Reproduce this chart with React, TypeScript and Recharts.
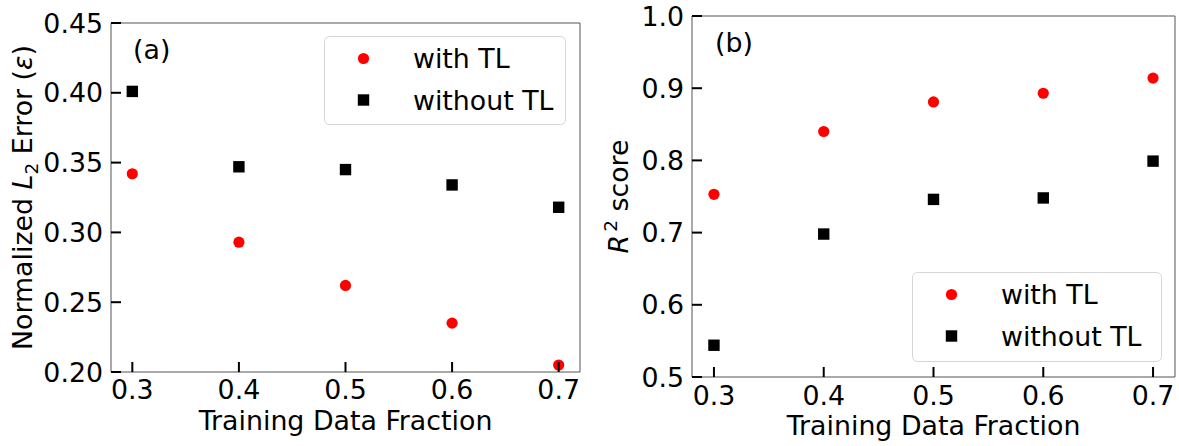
import React from 'react'
import { ScatterChart, Scatter, XAxis, YAxis, ReferenceArea, Legend } from 'recharts'

// values
const fractions = [0.3, 0.4, 0.5, 0.6, 0.7]
const errorWithTL = [0.342, 0.293, 0.262, 0.235, 0.205]
const errorWithoutTL = [0.401, 0.347, 0.345, 0.334, 0.318]
const r2WithTL = [0.753, 0.84, 0.881, 0.893, 0.914]
const r2WithoutTL = [0.544, 0.698, 0.746, 0.748, 0.799]

const xTicks = [0.3, 0.4, 0.5, 0.6, 0.7]
const errorTicks = [0.2, 0.25, 0.3, 0.35, 0.4, 0.45]
const r2Ticks = [0.5, 0.6, 0.7, 0.8, 0.9, 1.0]
const xDomain = [0.28, 0.72]
const errorDomain = [0.2, 0.45]
const r2Domain = [0.5, 1.0]

const toPoints = (ys: number[]) => fractions.map((x, i) => ({ x, y: ys[i] }))

const FONT = '"DejaVu Sans", sans-serif'
const FS = 26.8

const RedDot = (p: any) => <circle cx={p.cx} cy={p.cy} r={5.6} fill="#ff0000" />
const BlackSquare = (p: any) => <rect x={p.cx - 5.7} y={p.cy - 5.7} width={11.4} height={11.4} fill="#000" />

const bottomTick = (labelOffset: number) => ({ x, y, payload }: any) => (
  <g>
    <line x1={x} y1={y} x2={x} y2={y - 10} stroke="#000" strokeWidth={2} />
    <text x={x} y={y + labelOffset} textAnchor="middle" fontSize={FS} fontFamily={FONT} fill="#000">
      {Number(payload.value).toFixed(1)}
    </text>
  </g>
)

const leftTick = (digits: number) => ({ x, y, payload }: any) => (
  <g>
    <line x1={x} y1={y} x2={x + 10} y2={y} stroke="#000" strokeWidth={2} />
    <text x={x - 8} y={y} dy="0.36em" textAnchor="end" fontSize={FS} fontFamily={FONT} fill="#000">
      {Number(payload.value).toFixed(digits)}
    </text>
  </g>
)

const LegendBox = ({ payload, width, height }: any) => (
  <svg width={width} height={height} style={{ display: 'block' }}>
    <rect x={0.5} y={0.5} width={width - 1} height={height - 1} rx={5} fill="#fff" fillOpacity={0.8} stroke="#d6d6d6" />
    {(payload || []).map((entry: any, i: number) => {
      const cy = 22.5 + 41.5 * i
      return (
        <g key={entry.value}>
          {entry.type === 'square'
            ? <rect x={39.5 - 5.7} y={cy - 5.7} width={11.4} height={11.4} fill={entry.color} />
            : <circle cx={39.5} cy={cy} r={5.6} fill={entry.color} />}
          <text x={89} y={cy + 9.8} fontSize={FS} fontFamily={FONT} fill="#000">{entry.value}</text>
        </g>
      )
    })}
  </svg>
)

// axis titles and panel letters, drawn over both charts
const Titles = () => (
  <svg width={1179} height={446} style={{ position: 'absolute', left: 0, top: 0, pointerEvents: 'none' }}
    fontFamily={FONT} fontSize={FS} fill="#000">
    <text x={133} y={58.5}>(a)</text>
    <text x={715} y={51.5}>(b)</text>
    <text x={345.5} y={430} textAnchor="middle">Training Data Fraction</text>
    <text x={933.5} y={435} textAnchor="middle">Training Data Fraction</text>
    <text x={31.5} y={197.5} transform="rotate(-90 31.5 197.5)" textAnchor="middle">
      Normalized <tspan fontStyle="italic">L</tspan><tspan fontSize={18.5} dy={6}>2</tspan><tspan dy={-6}> Error (</tspan><tspan fontStyle="italic">ε</tspan>)
    </text>
    <text x={628.3} y={196.5} transform="rotate(-90 628.3 196.5)" textAnchor="middle">
      <tspan fontStyle="italic">R</tspan><tspan fontSize={18.5} dx={3} dy={-11}>2</tspan><tspan dy={11}> score</tspan>
    </text>
  </svg>
)

export default function App() {
  return (
    <div style={{ position: 'absolute', left: 0, top: 0, width: 1179, height: 446, background: '#fff' }}>
      {/* (a) normalized L2 error */}
      <div style={{ position: 'absolute', left: 0, top: 0 }}>
        <ScatterChart width={590} height={446} margin={{ top: 23, right: 10, bottom: 44, left: 51 }}>
          <ReferenceArea x1={xDomain[0]} x2={xDomain[1]} y1={errorDomain[0]} y2={errorDomain[1]} fill="none" stroke="#555" ifOverflow="visible" />
          <XAxis
            type="number" dataKey="x" domain={xDomain} ticks={xTicks} interval={0} height={30}
            axisLine={false} tickLine={false} tickSize={0} tickMargin={0} tick={bottomTick(26.5)}
          />
          <YAxis
            type="number" dataKey="y" domain={errorDomain} ticks={errorTicks} interval={0} width={60}
            axisLine={false} tickLine={false} tickSize={0} tickMargin={0} tick={leftTick(2)}
          />
          <Legend
            layout="vertical" align="center" verticalAlign="middle"
            wrapperStyle={{ left: 324, top: 36, width: 242, height: 89 }}
            content={(props: any) => <LegendBox {...props} width={242} height={89} />}
          />
          <Scatter name="with TL" data={toPoints(errorWithTL)} fill="#ff0000" legendType="circle" shape={RedDot} isAnimationActive={false} />
          <Scatter name="without TL" data={toPoints(errorWithoutTL)} fill="#000000" legendType="square" shape={BlackSquare} isAnimationActive={false} />
        </ScatterChart>
      </div>

      {/* (b) R2 score */}
      <div style={{ position: 'absolute', left: 590, top: 0 }}>
        <ScatterChart width={589} height={446} margin={{ top: 16, right: 4, bottom: 39, left: 42 }}>
          <ReferenceArea x1={xDomain[0]} x2={xDomain[1]} y1={r2Domain[0]} y2={r2Domain[1]} fill="none" stroke="#555" ifOverflow="visible" />
          <XAxis
            type="number" dataKey="x" domain={xDomain} ticks={xTicks} interval={0} height={30}
            axisLine={false} tickLine={false} tickSize={0} tickMargin={0} tick={bottomTick(28)}
          />
          <YAxis
            type="number" dataKey="y" domain={r2Domain} ticks={r2Ticks} interval={0} width={60}
            axisLine={false} tickLine={false} tickSize={0} tickMargin={0} tick={leftTick(1)}
          />
          <Legend
            layout="vertical" align="center" verticalAlign="middle"
            wrapperStyle={{ left: 322, top: 272, width: 250, height: 90 }}
            content={(props: any) => <LegendBox {...props} width={250} height={90} />}
          />
          <Scatter name="with TL" data={toPoints(r2WithTL)} fill="#ff0000" legendType="circle" shape={RedDot} isAnimationActive={false} />
          <Scatter name="without TL" data={toPoints(r2WithoutTL)} fill="#000000" legendType="square" shape={BlackSquare} isAnimationActive={false} />
        </ScatterChart>
      </div>

      <Titles />
    </div>
  )
}
